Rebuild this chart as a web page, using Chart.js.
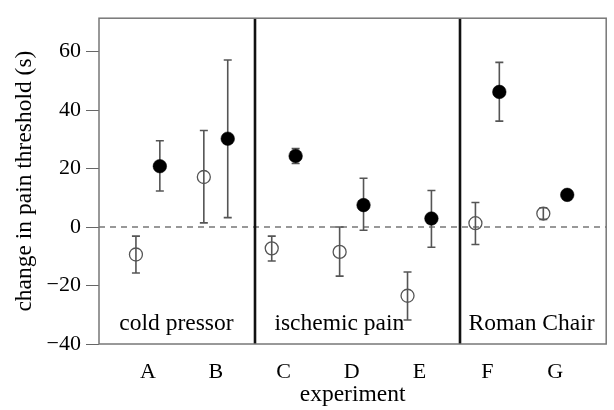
<!DOCTYPE html>
<html lang="en">
<head>
    <meta charset="UTF-8">
    <title>change in pain threshold</title>
    <script src="https://cdn.jsdelivr.net/npm/chart.js@4.4.1/dist/chart.umd.min.js"></script>
    <style>
        body { margin: 0; background: #fff; }
        .grafico { width: 614px; height: 410px; }
    </style>
</head>
<body>
    <div class="grafico">
        <canvas id="grafico" width="614" height="410"></canvas>
    </div>

    <script>
        // experiments and their groups
        const categories = ['A', 'B', 'C', 'D', 'E', 'F', 'G'];
        const groupLabels = ['cold pressor', 'ischemic pain', 'Roman Chair'];

        // open circles
        const openMean = [-9.4, 17.1, -7.3, -8.5, -23.5, 1.3, 4.6];
        const openLow  = [-15.7, 1.4, -11.6, -16.8, -31.8, -6.0, 2.6];
        const openHigh = [-3.1, 33.0, -3.1, 0.0, -15.4, 8.4, 6.6];

        // filled circles
        const filledMean = [20.8, 30.2, 24.3, 7.5, 2.9, 46.2, 11.0];
        const filledLow  = [12.3, 3.2, 21.7, -1.1, -6.9, 36.2, 9.8];
        const filledHigh = [29.5, 57.1, 26.8, 16.7, 12.5, 56.3, 12.2];

        const yTicks = [-40, -20, 0, 20, 40, 60];

        // layout (x in category units, A = 1)
        const shift = 0.176;
        const dividers = [2.58, 5.59];
        const groupX = [1.42, 3.82, 6.65];
        const fonte = 'Liberation Serif, Times New Roman, serif';

        function pontos(mean, low, high, d) {
            return mean.map((v, i) => ({x: i + 1 + d, y: v, low: low[i], high: high[i]}));
        }

        const fundo = {
            id: 'fundo',
            beforeDatasetsDraw(chart) {
                const {ctx, chartArea: a, scales: {x, y}} = chart;
                ctx.save();

                // dashed zero line
                const y0 = y.getPixelForValue(0);
                ctx.strokeStyle = '#333';
                ctx.lineWidth = 1.2;
                ctx.setLineDash([6, 5]);
                ctx.beginPath();
                ctx.moveTo(a.left, y0);
                ctx.lineTo(a.right, y0);
                ctx.stroke();
                ctx.setLineDash([]);

                // group separators
                ctx.strokeStyle = '#111';
                ctx.lineWidth = 2.6;
                dividers.forEach(v => {
                    const px = Math.round(x.getPixelForValue(v));
                    ctx.beginPath();
                    ctx.moveTo(px, a.top);
                    ctx.lineTo(px, a.bottom);
                    ctx.stroke();
                });

                // frame
                ctx.strokeStyle = '#777';
                ctx.lineWidth = 1.5;
                ctx.strokeRect(a.left, a.top, a.right - a.left, a.bottom - a.top);

                // group names
                ctx.fillStyle = '#000';
                ctx.font = '23.5px ' + fonte;
                ctx.textAlign = 'center';
                ctx.textBaseline = 'middle';
                groupLabels.forEach((t, i) => {
                    ctx.fillText(t, x.getPixelForValue(groupX[i]), a.bottom - 20);
                });

                // error bars
                ctx.strokeStyle = '#555';
                ctx.lineWidth = 1.6;
                chart.data.datasets.forEach(ds => {
                    ds.data.forEach(p => {
                        const px = x.getPixelForValue(p.x);
                        const top = y.getPixelForValue(p.high);
                        const bot = y.getPixelForValue(p.low);
                        ctx.beginPath();
                        ctx.moveTo(px, top);
                        ctx.lineTo(px, bot);
                        ctx.moveTo(px - 4, top);
                        ctx.lineTo(px + 4, top);
                        ctx.moveTo(px - 4, bot);
                        ctx.lineTo(px + 4, bot);
                        ctx.stroke();
                    });
                });
                ctx.restore();
            }
        };

        new Chart(document.getElementById('grafico'), {
            type: 'scatter',
            data: {
                datasets: [
                    {
                        data: pontos(openMean, openLow, openHigh, -shift),
                        pointRadius: 6.5,
                        borderColor: '#555',
                        borderWidth: 1.3,
                        backgroundColor: 'rgba(0,0,0,0)'
                    },
                    {
                        data: pontos(filledMean, filledLow, filledHigh, shift),
                        pointRadius: 6.8,
                        borderColor: '#000',
                        borderWidth: 0.5,
                        backgroundColor: '#000'
                    }
                ]
            },
            options: {
                responsive: false,
                animation: false,
                layout: {padding: {left: 0, right: 5, top: 8, bottom: 0}},
                plugins: {legend: {display: false}, tooltip: {enabled: false}},
                scales: {
                    x: {
                        type: 'linear',
                        min: 0.28,
                        max: 7.75,
                        afterBuildTicks: s => { s.ticks = categories.map((c, i) => ({value: i + 1})); },
                        afterFit: s => { s.height = 66; },
                        grid: {display: false},
                        border: {display: false},
                        ticks: {
                            callback: v => categories[v - 1],
                            color: '#000',
                            padding: 7,
                            maxRotation: 0,
                            font: {family: fonte, size: 22}
                        },
                        title: {
                            display: true,
                            text: 'experiment',
                            color: '#000',
                            padding: {top: 0, bottom: 1},
                            font: {family: fonte, size: 23.5}
                        }
                    },
                    y: {
                        min: -40,
                        max: 71.4,
                        afterBuildTicks: s => { s.ticks = yTicks.map(v => ({value: v})); },
                        afterFit: s => { s.width = 99; },
                        grid: {drawOnChartArea: false, drawTicks: true, tickLength: 13, color: '#666'},
                        border: {display: false},
                        ticks: {
                            callback: v => v < 0 ? '\u2212' + Math.abs(v) : String(v),
                            color: '#000',
                            padding: 5,
                            font: {family: fonte, size: 22}
                        },
                        title: {
                            display: true,
                            text: 'change in pain threshold (s)',
                            color: '#000',
                            padding: {top: 11, bottom: 0},
                            font: {family: fonte, size: 23.5}
                        }
                    }
                }
            },
            plugins: [fundo]
        });
    </script>
</body>
</html>
